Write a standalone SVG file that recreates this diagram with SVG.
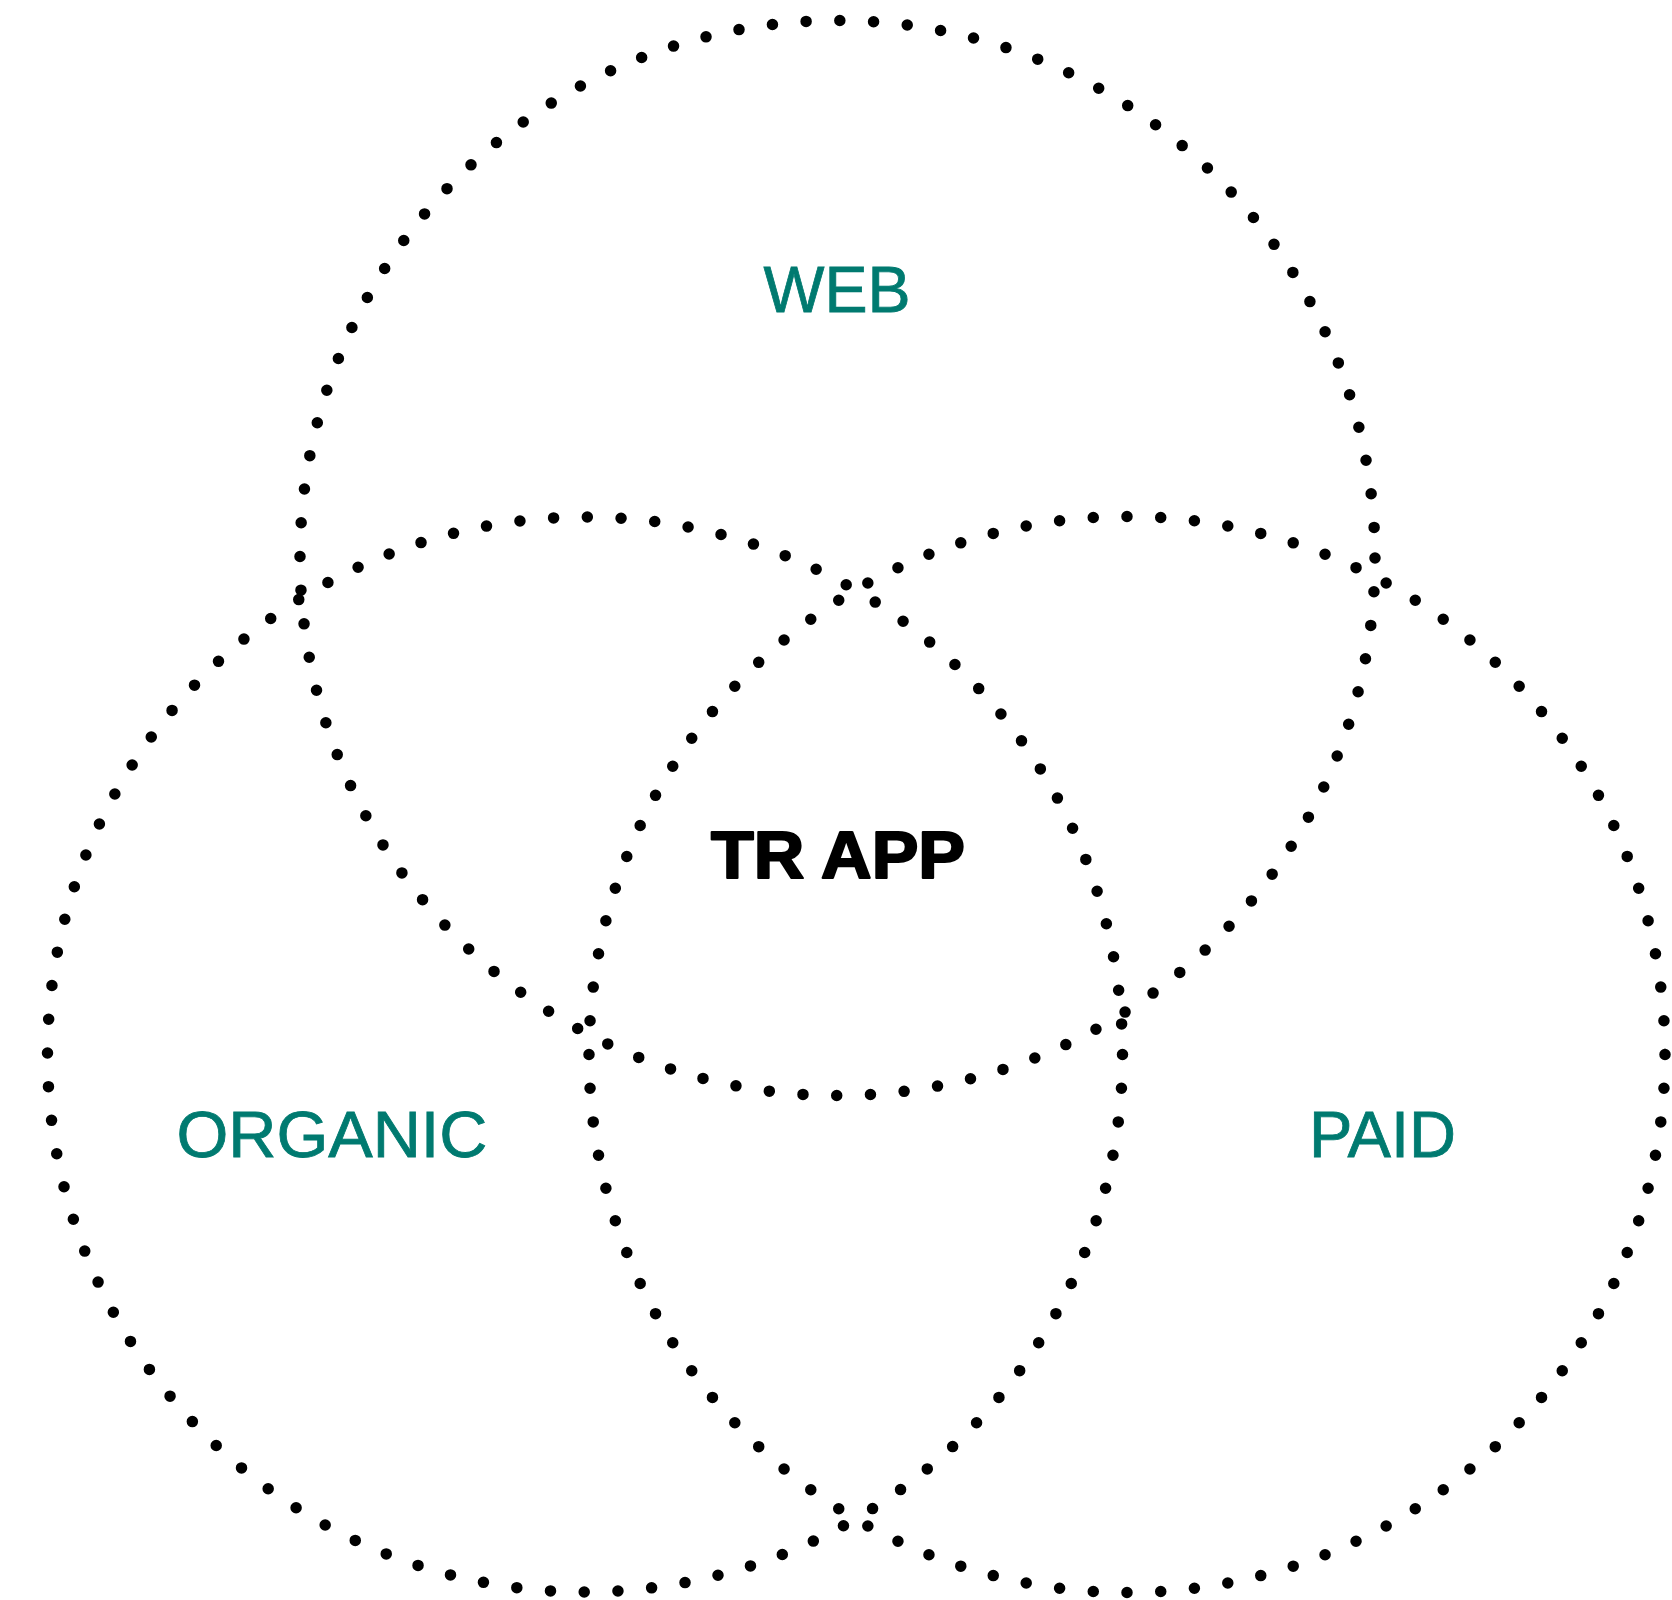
<svg xmlns="http://www.w3.org/2000/svg" width="1672" height="1600" viewBox="0 0 1672 1600">
<style>
.ring{fill:none;stroke:#000;stroke-width:11.5;stroke-linecap:round;stroke-dasharray:0 33.8}
.lbl{font-family:"Liberation Sans",Arial,sans-serif;font-size:65px;fill:#007A70;stroke:#007A70;stroke-width:0.8;text-anchor:middle}
.core{font-family:"Liberation Sans",Arial,sans-serif;font-size:67px;font-weight:bold;fill:#000;stroke:#000;stroke-width:2.2;stroke-linejoin:round;text-anchor:middle}
</style>
<rect width="1672" height="1600" fill="#fff"/>
<g id="connectors">
<circle class="ring" cx="837.5" cy="558" r="537.5"/>
<circle class="ring" cx="585" cy="1054.5" r="537.5"/>
<circle class="ring" cx="1127" cy="1054.5" r="538"/>
</g>
<g id="web"><text class="lbl" x="837" y="312" textLength="147" lengthAdjust="spacingAndGlyphs">WEB</text></g>
<g id="organic"><text class="lbl" x="332" y="1157" textLength="311" lengthAdjust="spacingAndGlyphs">ORGANIC</text></g>
<g id="paid"><text class="lbl" x="1382.5" y="1157" textLength="147" lengthAdjust="spacingAndGlyphs">PAID</text></g>
<g id="trapp"><text class="core" x="838" y="878" textLength="254" lengthAdjust="spacingAndGlyphs">TR APP</text></g>
</svg>
